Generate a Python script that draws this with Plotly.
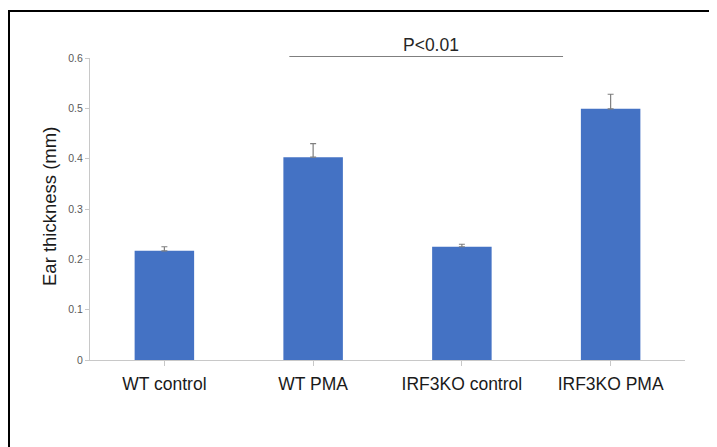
import plotly.graph_objects as go

categories = ["WT control", "WT PMA", "IRF3KO control", "IRF3KO PMA"]
means = [0.217, 0.403, 0.225, 0.499]
errors = [0.008, 0.027, 0.005, 0.029]
y_ticks = [0, 0.1, 0.2, 0.3, 0.4, 0.5, 0.6]
y_tick_labels = ["0", "0.1", "0.2", "0.3", "0.4", "0.5", "0.6"]
sig_label = "P<0.01"
sig_span = [0.84, 2.68]  # in category units

OFF = 8  # page body margin
W, H = 717 - OFF, 447 - OFF
L, R, T, B = 90 - OFF, 32, 58 - OFF, 87
pw, ph = W - L - R, H - T - B

def px_to_paper_x(px):
    # px in window coordinates
    return (px - OFF - L) / pw

def px_to_paper_y(py):
    return (H - B - (py - OFF)) / ph

fig = go.Figure()
fig.add_trace(go.Bar(
    x=list(range(len(categories))), y=means, width=0.4,
    marker=dict(color="#4472C4", line=dict(width=0)),
    error_y=dict(type="data", array=errors, arrayminus=[0]*len(errors),
                 symmetric=False, color="#7F7F7F", thickness=1.2, width=3),
))

font = "Liberation Sans, Arial, sans-serif"
fig.update_layout(
    width=W, height=H,
    margin=dict(l=L, r=R, t=T, b=B),
    paper_bgcolor="white", plot_bgcolor="white",
    showlegend=False,
    font=dict(family=font),
    xaxis=dict(
        range=[-0.5, len(categories) - 0.5],
        tickmode="array", tickvals=list(range(len(categories))), ticktext=categories,
        tickson="boundaries", ticks="outside", ticklen=5, tickcolor="#C8C8C8",
        showline=True, linecolor="#C8C8C8", linewidth=1,
        showgrid=False, zeroline=False,
        tickfont=dict(size=17.5, color="#1a1a1a", family=font),
        ticklabelstandoff=3,
    ),
    yaxis=dict(
        range=[0, 0.6],
        tickmode="array", tickvals=y_ticks, ticktext=y_tick_labels,
        ticks="outside", ticklen=4, tickcolor="#C8C8C8",
        showline=True, linecolor="#C8C8C8", linewidth=1,
        showgrid=False, zeroline=False,
        tickfont=dict(size=10.5, color="#595959", family=font),
    ),
    shapes=[
        # significance line
        dict(type="line", xref="x", yref="paper",
             x0=sig_span[0], x1=sig_span[1],
             y0=px_to_paper_y(56.5), y1=px_to_paper_y(56.5),
             line=dict(color="#7F7F7F", width=1.2)),
        # outer frame (left and top)
        dict(type="line", xref="paper", yref="paper",
             x0=px_to_paper_x(9), x1=px_to_paper_x(9),
             y0=px_to_paper_y(10), y1=px_to_paper_y(447 + 5),
             line=dict(color="black", width=2)),
        dict(type="line", xref="paper", yref="paper",
             x0=px_to_paper_x(8), x1=px_to_paper_x(717 + 5),
             y0=px_to_paper_y(11), y1=px_to_paper_y(11),
             line=dict(color="black", width=2)),
    ],
    annotations=[
        dict(text=sig_label, xref="x", yref="paper",
             x=(sig_span[0] + sig_span[1]) / 2 + 0.03, y=px_to_paper_y(45),
             xanchor="center", yanchor="middle", showarrow=False,
             font=dict(size=17.5, color="#262626", family=font)),
        dict(text="Ear thickness (mm)", xref="paper", yref="paper",
             x=px_to_paper_x(49), y=px_to_paper_y(207), textangle=-90,
             xanchor="center", yanchor="middle", showarrow=False,
             font=dict(size=18.5, color="#1a1a1a", family=font)),
    ],
)

fig.write_html("out.html")
